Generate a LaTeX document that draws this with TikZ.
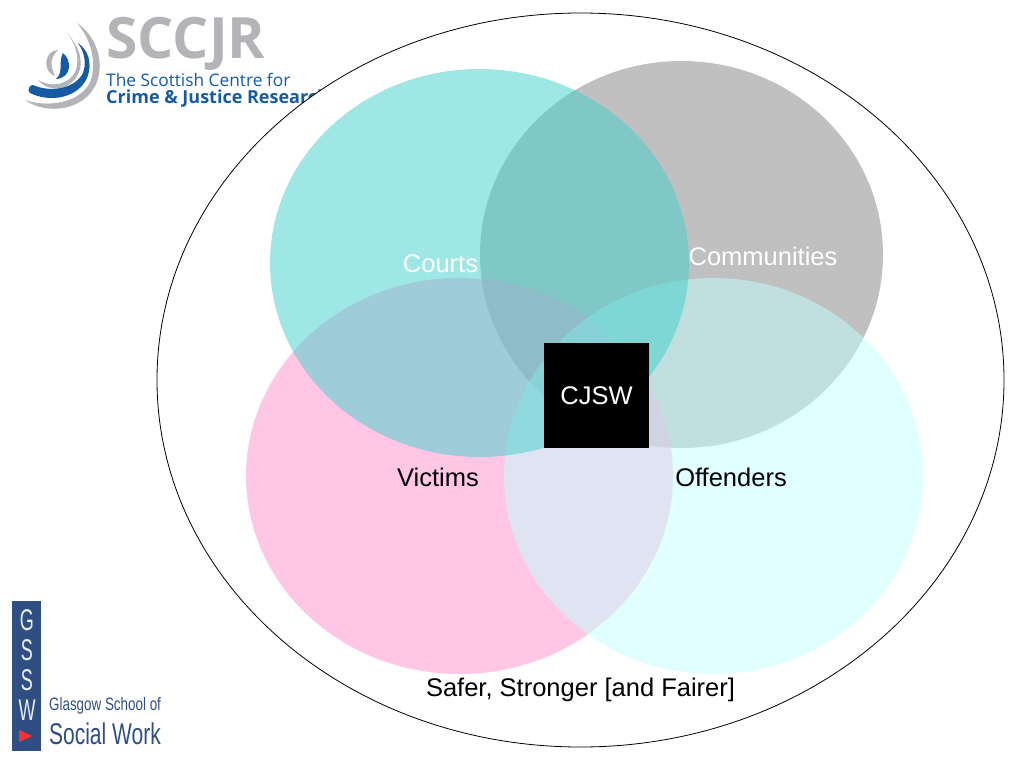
\documentclass[tikz,border=0pt]{standalone}
\usepackage{fontspec}
\setmainfont{Liberation Sans}
\newfontfamily\logofont{Open Sans}
\definecolor{ringgray}{RGB}{131,131,131}
\definecolor{ringpink}{RGB}{255,145,205}
\definecolor{ringaqua}{RGB}{195,255,255}
\definecolor{ringteal}{RGB}{63,209,205}
\definecolor{logogray}{RGB}{178,180,184}
\definecolor{logoblue}{RGB}{20,90,165}
\definecolor{gsswblue}{RGB}{47,79,130}
\tikzset{
  ring/.style = {fill = #1, fill opacity = 0.5, draw = none},
  label/.style = {font = \fontsize{25.5}{30}\selectfont, inner sep = 0pt}
}
\begin{document}
\begin{tikzpicture}[x = 1pt, y = -1pt]
\useasboundingbox (0,0) rectangle (1024,768);
% sccjr logo
\node[font = \logofont\bfseries\fontsize{57}{60}\selectfont, text = logogray, anchor = west, inner sep = 0pt] (sccjr) at (106,44){SCCJR};
\node[font = \logofont\fontsize{17.3}{22}\selectfont, text = logoblue, anchor = west, inner sep = 0pt] (scottish) at (106,80){The Scottish Centre for};
\node[font = \logofont\bfseries\fontsize{18}{22}\selectfont, text = logoblue, anchor = west, inner sep = 0pt] (crime) at (106,99){Crime \& Justice Research};
\fill[logogray] (25,100) .. controls (45,115) and (85,112) .. (97,82) .. controls (105,60) and (95,35) .. (77,23) .. controls (90,38) and (97,60) .. (91,80) .. controls (82,103) and (48,108) .. (25,100) -- cycle;
\fill[logogray] (38,80) .. controls (52,88) and (70,85) .. (76,70) .. controls (80,58) and (75,42) .. (67,33) .. controls (78,45) and (84,60) .. (79,72) .. controls (72,90) and (50,94) .. (38,80) -- cycle;
\fill[logoblue] (30,93) .. controls (50,103) and (78,98) .. (87,78) .. controls (93,63) and (88,50) .. (78,43) .. controls (85,53) and (87,65) .. (82,75) .. controls (72,90) and (48,92) .. (33,85) .. controls (29,85) and (27,91) .. (30,93) -- cycle;
\fill[logogray] (58,50) .. controls (44,50) and (42,72) .. (55,76) .. controls (50,65) and (50,58) .. (58,50) -- cycle;
\fill[logoblue] (63,53) .. controls (72,60) and (72,78) .. (56,79) .. controls (64,72) and (58,62) .. (63,53) -- cycle;
% gssw logo
\fill[gsswblue] (12,601) rectangle (41,751);
\foreach \letter/\ypos in {G/620.5,S/650,S/680,W/710}
  \node[font = \fontsize{30}{32}\selectfont, text = white!90!gsswblue, xscale = 0.6, transform shape, inner sep = 0pt] at (27,\ypos){\letter};
\fill[red!75!pink] (19,730) -- (32,736) -- (19,742) -- cycle;
\node[font = \fontsize{18}{20}\selectfont, text = gsswblue, anchor = west, xscale = 0.745, transform shape, inner sep = 0pt] (glasgow) at (49,706){Glasgow School of};
\node[font = \fontsize{30}{32}\selectfont, text = gsswblue, anchor = west, xscale = 0.7, transform shape, inner sep = 0pt] (socialwork) at (49,734){Social Work};
% big outline
\draw[fill = white, draw = black, line width = 0.8pt] (580.5,380) ellipse [x radius = 423.5, y radius = 367];
% rings, order matters for the blends
\fill[ring = ringgray] (681.5,254.5) ellipse [x radius = 201.5, y radius = 193.5];
\fill[ring = ringpink] (459.5,476) ellipse [x radius = 213.5, y radius = 198];
\fill[ring = ringaqua] (713.5,476) ellipse [x radius = 209.5, y radius = 198];
\fill[ring = ringteal] (479.5,263) ellipse [x radius = 209.5, y radius = 194];
\node[label, text = white] (courts) at (440.5,264){Courts};
\node[label, text = white] (communities) at (763,256){Communities};
\node[label] (victims) at (438,477.5){Victims};
\node[label] (offenders) at (731,477.5){Offenders};
\node[label] (safer) at (580.5,690){Safer, Stronger [and Fairer]};
\node[fill = black, text = white, minimum size = 105pt, inner sep = 0pt, font = \fontsize{25.5}{30}\selectfont] (cjsw) at (596.5,395.5){\raisebox{-2pt}{CJSW}};
\end{tikzpicture}
\end{document}
